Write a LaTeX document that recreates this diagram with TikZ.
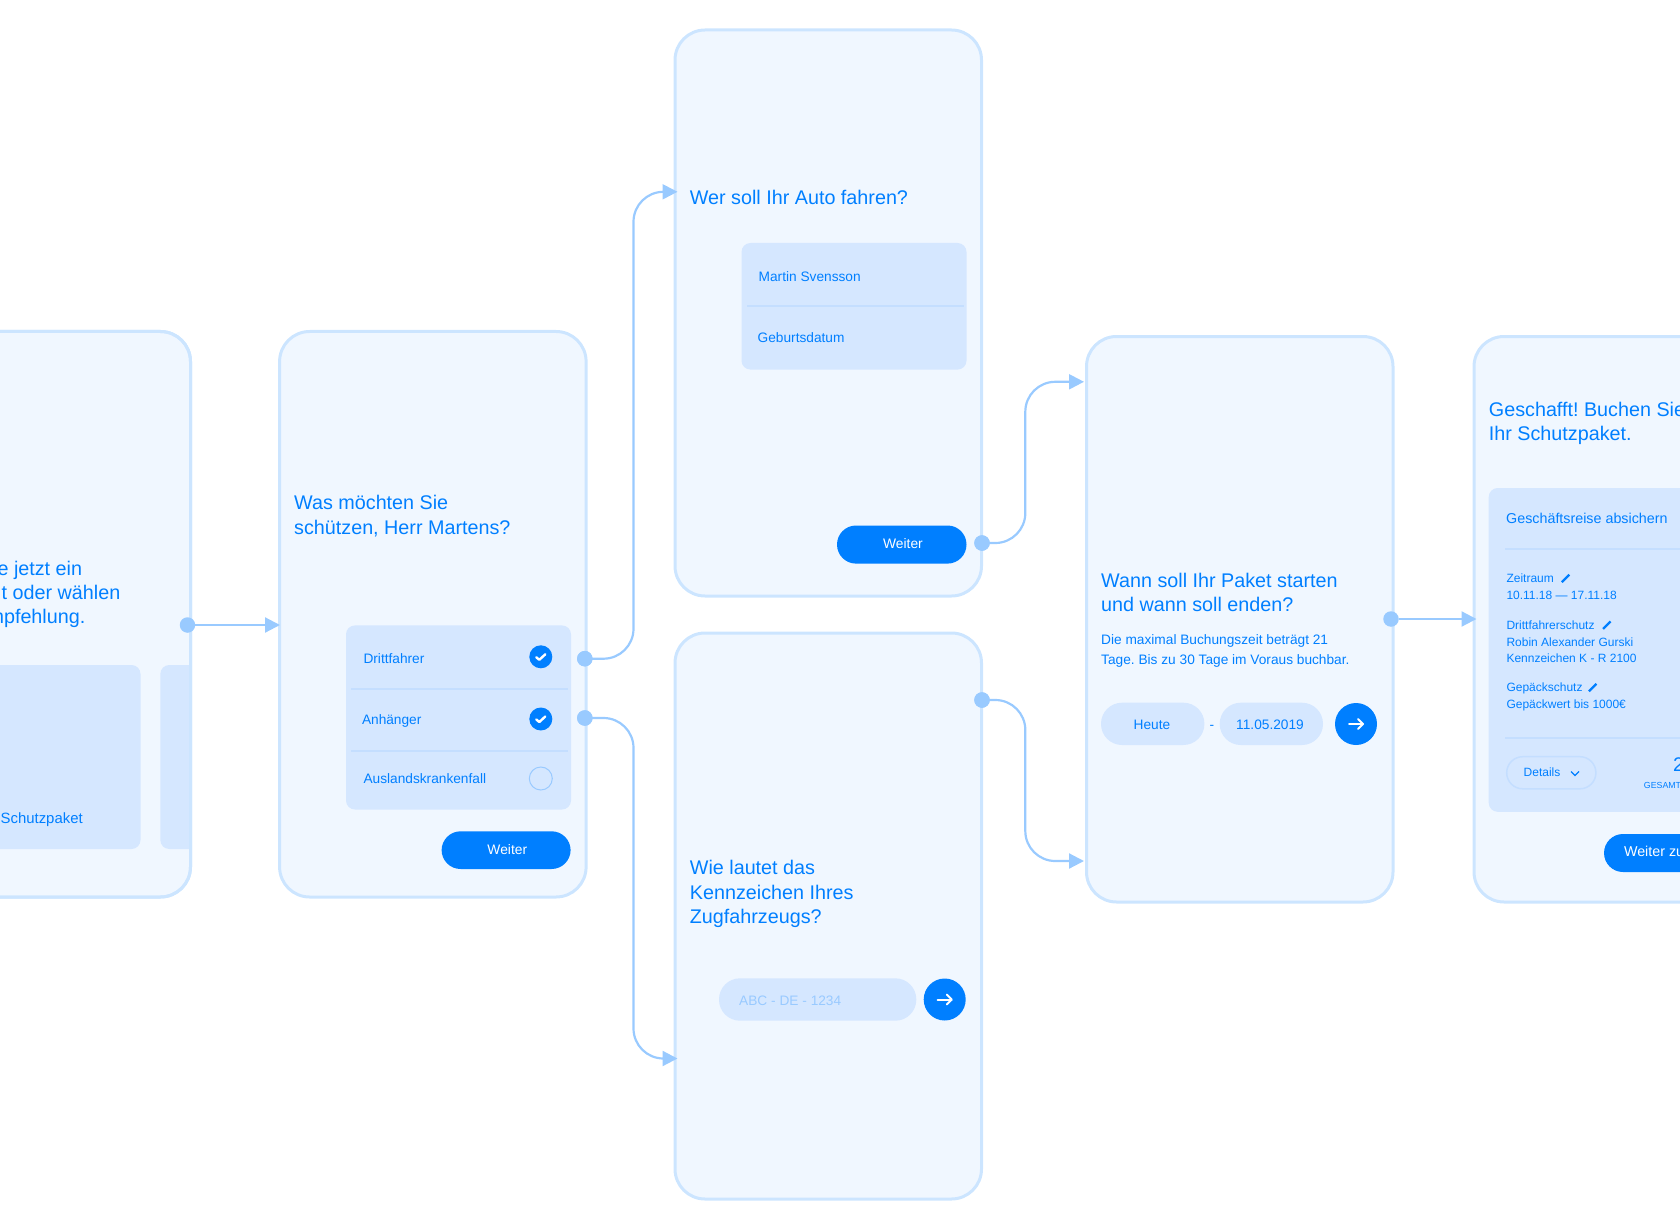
\documentclass[tikz,border=0pt]{standalone}
\usepackage{fontspec}
\setmainfont{Liberation Sans}
\frenchspacing
\usetikzlibrary{arrows.meta}
\definecolor{brandblue}{HTML}{007FFF}
\definecolor{screenfill}{HTML}{F0F7FF}
\definecolor{screenline}{HTML}{CCE5FF}
\definecolor{panelfill}{HTML}{D5E7FF}
\definecolor{ruleline}{HTML}{C4DEFF}
\definecolor{connline}{HTML}{99CAFF}
\newcommand{\fs}[1]{\fontsize{#1}{#1}\selectfont}
% \rbox[style]{name}{x1}{y1}{x2}{y2}{text}
\newcommand{\rbox}[6][]{%
  \pgfmathsetmacro\rbw{#5-(#3)}\pgfmathsetmacro\rbh{#6-#4}%
  \pgfmathsetmacro\rbx{(#3+#5)/2}\pgfmathsetmacro\rby{(#4+#6)/2}%
  \node[#1,minimum width=\rbw pt,minimum height=\rbh pt] (#2) at (\rbx,\rby) {};}
\newcommand{\goarrow}[1]{%
  \draw[glyph] ([xshift=-7pt]#1.center) -- ([xshift=7pt]#1.center);
  \draw[glyph] ([xshift=2pt,yshift=5pt]#1.center) -- ([xshift=7pt]#1.center) -- ([xshift=2pt,yshift=-5pt]#1.center);}
\newcommand{\tick}[1]{%
  \draw[glyph,line width=2.4pt] ([xshift=-4.5pt,yshift=-0.5pt]#1.center) -- ([xshift=-1.5pt,yshift=-3pt]#1.center) -- ([xshift=4.5pt,yshift=2.5pt]#1.center);}
\newcommand{\pencil}[2]{%
  \node[pencilmark] (#1) at (#2) {};
  \draw[pencilline] ([xshift=-3.5pt,yshift=-3.5pt]#1.center) -- ([xshift=4pt,yshift=4pt]#1.center);}
\tikzset{
  screen/.style={rectangle,rounded corners=30pt,draw=screenline,fill=screenfill,line width=3pt,inner sep=0,outer sep=0},
  screenedge/.style={rectangle,rounded corners=30pt,draw=screenline,line width=3pt,inner sep=0,outer sep=0},
  panel/.style={rectangle,rounded corners=9pt,fill=panelfill,inner sep=0,outer sep=0},
  pill/.style={rectangle,rounded corners=21pt,fill=panelfill,inner sep=0,outer sep=0},
  bluebtn/.style={rectangle,rounded corners=19pt,fill=brandblue,inner sep=0,outer sep=0},
  detailpill/.style={rectangle,rounded corners=16pt,fill=panelfill,draw=ruleline,line width=1.5pt,inner sep=0,outer sep=0},
  divider/.style={draw=ruleline,line width=2pt},
  headtxt/.style={anchor=base west,inner sep=0,text=brandblue,font=\fs{19.75}},
  bodytxt/.style={anchor=base west,inner sep=0,text=brandblue,font=\fs{13.7}},
  smalltxt/.style={anchor=base west,inner sep=0,text=brandblue,font=\fs{12}},
  btntxt/.style={anchor=base,inner sep=0,text=white,font=\fs{13.8}},
  dot/.style={circle,fill=connline,minimum size=15.5pt,inner sep=0,outer sep=0},
  conn/.style={draw=connline,line width=2.2pt,rounded corners=30pt,-{Triangle[length=15pt,width=15pt]}},
  roundbtn/.style={circle,fill=brandblue,minimum size=42pt,inner sep=0,outer sep=0},
  checkon/.style={circle,fill=brandblue,minimum size=23pt,inner sep=0,outer sep=0},
  checkoff/.style={circle,draw=connline,line width=1pt,fill=none,minimum size=23pt,inner sep=0,outer sep=0},
  glyph/.style={draw=white,line width=2pt,line cap=round,line join=round},
  pencilmark/.style={inner sep=0,outer sep=0,minimum size=0pt},
  pencilline/.style={draw=brandblue,line width=2.2pt},
  chevron/.style={draw=brandblue,line width=1.2pt},
}
\begin{document}
\begin{tikzpicture}[x=1pt,y=-1pt]
\useasboundingbox (0,0) rectangle (1680,1230);
\clip (0,0) rectangle (1680,1230);

% screens
\rbox[screen]{s1}{-116}{331.5}{190.5}{897}
\rbox[screen]{s2}{279.6}{331.5}{586.1}{897}
\rbox[screen]{s3}{675}{30}{981.5}{596}
\rbox[screen]{s4}{675}{633}{981.5}{1199}
\rbox[screen]{s5}{1086.5}{336.5}{1393}{902}
\rbox[screen]{s6}{1474}{336.5}{1780.5}{902}

% screen 1
\node[headtxt,anchor=base east] (s1a) at (82.3,575) {e jetzt ein};
\node[headtxt,anchor=base east] (s1b) at (120.5,599.2) {t oder wählen};
\node[headtxt,anchor=base east] (s1c) at (85.5,623.5) {mpfehlung.};
\rbox[panel]{s1p1}{-60}{665}{140.5}{849}
\begin{scope}
\clip (150,650) rectangle (190.5,860);
\rbox[panel]{s1p2}{160.3}{665}{210}{849}
\end{scope}
\rbox[screenedge]{s1e}{-116}{331.5}{190.5}{897}
\node[bodytxt,font=\fs{14.9}] (s1t) at (0.5,823) {Schutzpaket};

% screen 2
\node[headtxt] (s2a) at (294,509.4) {Was möchten Sie};
\node[headtxt] (s2b) at (294,534) {schützen, Herr Martens?};
\rbox[panel]{s2p}{346}{625.4}{571}{809.5}
\coordinate (s2r1l) at (351,688.5); \coordinate (s2r1r) at (568,688.5);
\coordinate (s2r2l) at (351,751); \coordinate (s2r2r) at (568,751);
\draw[divider] (s2r1l) -- (s2r1r);
\draw[divider] (s2r2l) -- (s2r2r);
\node[bodytxt] (s2l1) at (363.3,663) {Drittfahrer};
\node[bodytxt] (s2l2) at (361.8,724) {Anhänger};
\node[bodytxt] (s2l3) at (363.3,783) {Auslandskrankenfall};
\node[checkon] (c1) at (540.8,656.8) {}; \tick{c1}
\node[checkon] (c2) at (540.8,719) {}; \tick{c2}
\node[checkoff] (c3) at (540.8,778.5) {};
\rbox[bluebtn]{s2b1}{441.6}{831.3}{570.6}{869}
\node[btntxt] (s2b1t) at (507.3,854.5) {Weiter};

% screen 3
\node[headtxt] (s3a) at (689.7,204.6) {Wer soll Ihr Auto fahren?};
\rbox[panel]{s3p}{741.5}{243}{966.5}{369.6}
\coordinate (s3rl) at (747,306.4); \coordinate (s3rr) at (964,306.4);
\draw[divider] (s3rl) -- (s3rr);
\node[bodytxt] (s3l1) at (758.5,281.5) {Martin Svensson};
\node[bodytxt] (s3l2) at (757.5,342.5) {Geburtsdatum};
\rbox[bluebtn]{s3b}{837}{525.5}{966.5}{563.6}
\node[btntxt] (s3bt) at (903,548.2) {Weiter};

% screen 4
\node[headtxt] (s4a) at (689.7,874.5) {Wie lautet das};
\node[headtxt] (s4b) at (689.7,899) {Kennzeichen Ihres};
\node[headtxt] (s4c) at (689.7,923.5) {Zugfahrzeugs?};
\rbox[pill]{s4i}{719}{978.3}{916.3}{1020.7}
\node[bodytxt,text=connline] (s4it) at (739,1005) {ABC - DE - 1234};
\node[roundbtn] (s4go) at (944.7,999.5) {}; \goarrow{s4go}

% screen 5
\node[headtxt] (s5a) at (1101,587) {Wann soll Ihr Paket starten};
\node[headtxt] (s5b) at (1101,611.2) {und wann soll enden?};
\node[bodytxt] (s5c) at (1101,644) {Die maximal Buchungszeit beträgt 21};
\node[bodytxt] (s5d) at (1101,664) {Tage. Bis zu 30 Tage im Voraus buchbar.};
\rbox[pill]{s5p1}{1101}{702.7}{1204.4}{745}
\rbox[pill]{s5p2}{1219.7}{702.7}{1323}{745}
\node[bodytxt,anchor=base] (s5h) at (1152,729) {Heute};
\node[bodytxt,anchor=base] (s5m) at (1212,729) {-};
\node[bodytxt,anchor=base] (s5e) at (1270,729) {11.05.2019};
\node[roundbtn] (s5go) at (1356,724) {}; \goarrow{s5go}

% screen 6
\node[headtxt] (s6a) at (1488.7,416.2) {Geschafft! Buchen Sie};
\node[headtxt] (s6b) at (1488.7,440) {Ihr Schutzpaket.};
\rbox[panel]{s6p}{1488.7}{488}{1800}{811.8}
\node[bodytxt,font=\fs{14.3}] (s6t) at (1506,523.6) {Geschäftsreise absichern};
\coordinate (s6r1l) at (1505,549.2); \coordinate (s6r1r) at (1680,549.2);
\coordinate (s6r2l) at (1505,738); \coordinate (s6r2r) at (1680,738);
\draw[divider] (s6r1l) -- (s6r1r);
\draw[divider] (s6r2l) -- (s6r2r);
\node[smalltxt] (s6z1) at (1506.3,582.5) {Zeitraum};
\node[smalltxt] (s6z2) at (1506.3,599.4) {10.11.18 — 17.11.18};
\node[smalltxt] (s6d1) at (1506.3,629.2) {Drittfahrerschutz};
\node[smalltxt] (s6d2) at (1506.3,646.4) {Robin Alexander Gurski};
\node[smalltxt] (s6d3) at (1506.3,662.5) {Kennzeichen K - R 2100};
\node[smalltxt] (s6g1) at (1506.3,691.2) {Gepäckschutz};
\node[smalltxt] (s6g2) at (1506.3,708) {Gepäckwert bis 1000€};
\pencil{pen1}{1565.3,578.7}
\pencil{pen2}{1606.6,625.4}
\pencil{pen3}{1592.4,687.8}
\rbox[detailpill]{s6det}{1506.7}{756.7}{1595.9}{788.8}
\node[smalltxt,anchor=base] (s6dt) at (1542,776) {Details};
\coordinate (chA) at (1571,771.5); \coordinate (chB) at (1575,775.5); \coordinate (chC) at (1579,771.5);
\draw[chevron] (chA) -- (chB) -- (chC);
\node[headtxt] (s6two) at (1673,771.6) {2};
\node[smalltxt,font=\fs{8.8}] (s6g) at (1643.7,788) {GESAMT};
\rbox[bluebtn]{s6b1}{1604}{834}{1800}{872}
\node[btntxt,anchor=base west,font=\fs{14.3}] (s6b1t) at (1623.8,856) {Weiter zu};

% connectors
\node[dot] (d1) at (187.5,625) {};
\coordinate (in2) at (280,625);
\draw[conn] (d1) -- (in2);
\node[dot] (d2) at (584.8,658.7) {};
\node[dot] (d3) at (584.8,718) {};
\coordinate (v1) at (633.5,0);
\coordinate (in3) at (677.5,191.8);
\coordinate (in4) at (677.5,1058.5);
\draw[conn] (d2.center) -- (v1 |- d2) -- (v1 |- in3) -- (in3);
\draw[conn] (d3.center) -- (v1 |- d3) -- (v1 |- in4) -- (in4);
\node[dot] (d4) at (982,543) {};
\node[dot] (d5) at (982,700) {};
\coordinate (v2) at (1025.3,0);
\coordinate (in5a) at (1084,381.8);
\coordinate (in5b) at (1084,861);
\draw[conn] (d4.center) -- (v2 |- d4) -- (v2 |- in5a) -- (in5a);
\draw[conn] (d5.center) -- (v2 |- d5) -- (v2 |- in5b) -- (in5b);
\node[dot] (d6) at (1391,619) {};
\coordinate (in6) at (1476.5,619);
\draw[conn] (d6) -- (in6);
\node[dot] (d2top) at (d2) {};
\node[dot] (d3top) at (d3) {};
\node[dot] (d4top) at (d4) {};
\node[dot] (d5top) at (d5) {};
\end{tikzpicture}
\end{document}
